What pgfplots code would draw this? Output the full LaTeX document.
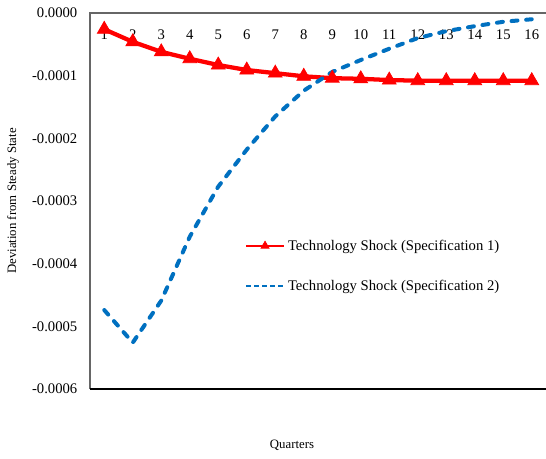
\documentclass[border=0pt]{standalone}
\usepackage{fontspec}
\setmainfont{Liberation Serif}
\usepackage{pgfplots}
\pgfplotsset{compat=1.18}
\definecolor{xred}{RGB}{255,0,0}
\definecolor{xblue}{RGB}{0,112,192}
\begin{document}
\begin{tikzpicture}
\begin{axis}[
  scale only axis,
  width=342pt, height=282pt,
  xmin=0.5, xmax=16.5,
  ymin=-0.0006, ymax=0,
  xtick={1,...,16},
  ytick={-0.0006,-0.0005,-0.0004,-0.0003,-0.0002,-0.0001,0},
  scaled y ticks=false,
  major tick length=0pt,
  axis line style={draw=none},
  xticklabel pos=upper,
  xticklabel style={anchor=north, yshift=-9pt, font=\fontsize{11}{13}\selectfont},
  yticklabel style={xshift=-6pt, font=\fontsize{11}{13}\selectfont,
    /pgf/number format/.cd, fixed, fixed zerofill, precision=4, assume math mode=true},
  xticklabel style={/pgf/number format/assume math mode=true},
  ylabel={Deviation from Steady State},
  ylabel style={at={(axis description cs:-0.169,0.5)}, anchor=center, font=\fontsize{9.6}{11}\selectfont},
  xlabel={Quarters},
  xlabel style={at={(axis description cs:0.443,-0.149)}, anchor=center, font=\fontsize{9.6}{11}\selectfont},
  legend style={draw=none, fill=none, at={(axis description cs:0.33,0.412)}, anchor=north west,
    font=\fontsize{11}{13}\selectfont, row sep=17pt},
  legend cell align=left,
  clip=false,
]
\draw[gray!80!black, line width=1pt] (rel axis cs:0,0) -- (rel axis cs:0,1) -- (rel axis cs:1,1);
\draw[black, line width=1pt] (rel axis cs:0,0) -- (rel axis cs:1,0);
\addplot[xred, line width=3.2pt, mark=triangle*, mark size=6pt, mark options={line width=0.5pt, fill=xred},
  legend image code/.code={\draw[xred, line width=2pt] (0cm,0cm) -- (1cm,0cm);
     \fill[xred] plot[mark=triangle*, mark size=3.5pt] coordinates {(0.5cm,0cm)};}]
 coordinates {
 (1,-0.000026) (2,-0.000046) (3,-0.000062) (4,-0.000073) (5,-0.000083) (6,-0.000091)
 (7,-0.000096) (8,-0.000101) (9,-0.000104) (10,-0.000105) (11,-0.000107) (12,-0.000108)
 (13,-0.000108) (14,-0.000108) (15,-0.000108) (16,-0.000108)
 };
\addlegendentry{Technology Shock (Specification 1)}
\addplot[xblue, line width=3pt, line cap=round, dash pattern=on 4.5pt off 6.5pt,
  legend image code/.code={\draw[xblue, line width=1.6pt, line cap=butt, dash pattern=on 4pt off 2pt] (0cm,0cm) -- (1cm,0cm);}]
 coordinates {
 (1,-0.000474) (2,-0.000526) (3,-0.000459) (4,-0.000357) (5,-0.000277) (6,-0.000218)
 (7,-0.000165) (8,-0.000124) (9,-0.000094) (10,-0.000075) (11,-0.000057) (12,-0.000040)
 (13,-0.000029) (14,-0.000021) (15,-0.000014) (16,-0.000010)
 };
\addlegendentry{Technology Shock (Specification 2)}
\end{axis}
\pgfresetboundingbox
\path[use as bounding box] ([xshift=-67.5pt,yshift=-52.5pt]current axis.south west) rectangle ([yshift=9.75pt]current axis.north east);
\end{tikzpicture}
\end{document}
